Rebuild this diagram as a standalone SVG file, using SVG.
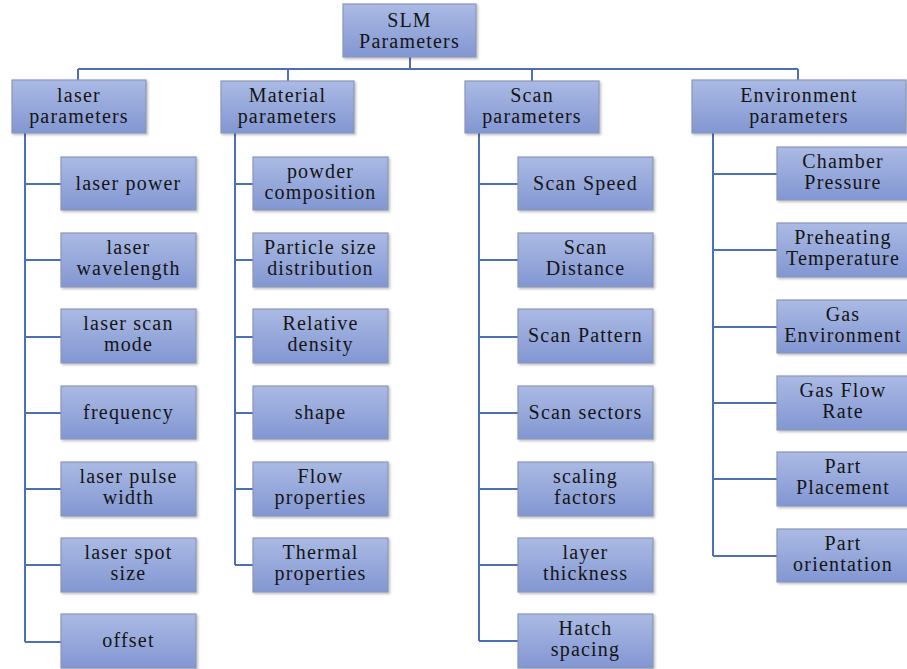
<svg xmlns="http://www.w3.org/2000/svg" width="907" height="669" viewBox="0 0 907 669">
<defs>
<linearGradient id="g" x1="0" y1="0" x2="0" y2="1">
<stop offset="0" stop-color="#abbae4"/>
<stop offset="1" stop-color="#8296d2"/>
</linearGradient>
<filter id="sh" x="-5%" y="-5%" width="115%" height="120%">
<feDropShadow dx="1.5" dy="1.5" stdDeviation="1" flood-color="#000" flood-opacity="0.25"/>
</filter>
</defs>
<style>
.b{fill:url(#g);stroke:#8b97b8;stroke-width:1.2;filter:url(#sh)}
.t{font-size:20px;fill:#151515;text-anchor:middle;letter-spacing:1.2px}
.c{fill:none;stroke:#4d6fb5;stroke-width:2}
</style>
<rect width="907" height="669" fill="#fff"/>
<g id="connectors" class="c">
<path d="M410 57V69M78 69H798M78 69V80M288 69V81M532 69V81M798 69V80"/>
<path d="M25 133V642M25 184H61M25 260H61M25 337H61M25 413H61M25 489H61M25 565H61M25 642H61"/>
<path d="M235 133V565M235 184H253M235 260H253M235 337H253M235 413H253M235 489H253M235 565H253"/>
<path d="M479 133V641M479 184H518M479 260H518M479 337H518M479 413H518M479 489H518M479 565H518M479 641H518"/>
<path d="M713 133V556M713 174H777M713 250H777M713 327H777M713 403H777M713 479H777M713 556H777"/>
</g>
<g font-family="Liberation Serif, Times New Roman, serif">
<g id="slm"><rect class="b" x="343" y="4" width="133" height="53"/><text class="t" x="409.5" y="27">SLM</text><text class="t" x="409.5" y="48">Parameters</text></g>
<g id="laser"><rect class="b" x="12" y="80" width="134" height="53"/><text class="t" x="79" y="102">laser</text><text class="t" x="79" y="123">parameters</text></g>
<g id="material"><rect class="b" x="221" y="81" width="133" height="52"/><text class="t" x="287.5" y="102">Material</text><text class="t" x="287.5" y="123">parameters</text></g>
<g id="scan"><rect class="b" x="465" y="81" width="134" height="52"/><text class="t" x="532" y="102">Scan</text><text class="t" x="532" y="123">parameters</text></g>
<g id="environment"><rect class="b" x="692" y="80" width="214" height="53"/><text class="t" x="799" y="102">Environment</text><text class="t" x="799" y="123">parameters</text></g>

<g id="laser-power"><rect class="b" x="61" y="157" width="135" height="53"/><text class="t" x="128.5" y="190">laser power</text></g>
<g id="laser-wavelength"><rect class="b" x="61" y="233" width="135" height="54"/><text class="t" x="128.5" y="254">laser</text><text class="t" x="128.5" y="275">wavelength</text></g>
<g id="laser-scan-mode"><rect class="b" x="61" y="309" width="135" height="54"/><text class="t" x="128.5" y="330">laser scan</text><text class="t" x="128.5" y="351">mode</text></g>
<g id="frequency"><rect class="b" x="61" y="386" width="135" height="53"/><text class="t" x="128.5" y="419">frequency</text></g>
<g id="laser-pulse-width"><rect class="b" x="61" y="462" width="135" height="54"/><text class="t" x="128.5" y="483">laser pulse</text><text class="t" x="128.5" y="504">width</text></g>
<g id="laser-spot-size"><rect class="b" x="61" y="538" width="135" height="54"/><text class="t" x="128.5" y="559">laser spot</text><text class="t" x="128.5" y="580">size</text></g>
<g id="offset"><rect class="b" x="61" y="614" width="135" height="54"/><text class="t" x="128.5" y="647">offset</text></g>

<g id="powder-composition"><rect class="b" x="253" y="157" width="135" height="53"/><text class="t" x="320.5" y="178">powder</text><text class="t" x="320.5" y="199">composition</text></g>
<g id="particle-size"><rect class="b" x="253" y="233" width="135" height="54"/><text class="t" x="320.5" y="254">Particle size</text><text class="t" x="320.5" y="275">distribution</text></g>
<g id="relative-density"><rect class="b" x="253" y="309" width="135" height="54"/><text class="t" x="320.5" y="330">Relative</text><text class="t" x="320.5" y="351">density</text></g>
<g id="shape"><rect class="b" x="253" y="386" width="135" height="53"/><text class="t" x="320.5" y="419">shape</text></g>
<g id="flow-properties"><rect class="b" x="253" y="462" width="135" height="54"/><text class="t" x="320.5" y="483">Flow</text><text class="t" x="320.5" y="504">properties</text></g>
<g id="thermal-properties"><rect class="b" x="253" y="538" width="135" height="54"/><text class="t" x="320.5" y="559">Thermal</text><text class="t" x="320.5" y="580">properties</text></g>

<g id="scan-speed"><rect class="b" x="518" y="157" width="135" height="53"/><text class="t" x="585.5" y="190">Scan Speed</text></g>
<g id="scan-distance"><rect class="b" x="518" y="233" width="135" height="54"/><text class="t" x="585.5" y="254">Scan</text><text class="t" x="585.5" y="275">Distance</text></g>
<g id="scan-pattern"><rect class="b" x="518" y="309" width="135" height="54"/><text class="t" x="585.5" y="342">Scan Pattern</text></g>
<g id="scan-sectors"><rect class="b" x="518" y="386" width="135" height="53"/><text class="t" x="585.5" y="419">Scan sectors</text></g>
<g id="scaling-factors"><rect class="b" x="518" y="462" width="135" height="54"/><text class="t" x="585.5" y="483">scaling</text><text class="t" x="585.5" y="504">factors</text></g>
<g id="layer-thickness"><rect class="b" x="518" y="538" width="135" height="54"/><text class="t" x="585.5" y="559">layer</text><text class="t" x="585.5" y="580">thickness</text></g>
<g id="hatch-spacing"><rect class="b" x="518" y="614" width="135" height="54"/><text class="t" x="585.5" y="635">Hatch</text><text class="t" x="585.5" y="656">spacing</text></g>

<g id="chamber-pressure"><rect class="b" x="777" y="147" width="134" height="53"/><text class="t" x="843" y="168">Chamber</text><text class="t" x="843" y="189">Pressure</text></g>
<g id="preheating-temperature"><rect class="b" x="777" y="223" width="134" height="54"/><text class="t" x="843" y="244">Preheating</text><text class="t" x="843" y="265">Temperature</text></g>
<g id="gas-environment"><rect class="b" x="777" y="300" width="134" height="53"/><text class="t" x="843" y="321">Gas</text><text class="t" x="843" y="342">Environment</text></g>
<g id="gas-flow-rate"><rect class="b" x="777" y="376" width="134" height="54"/><text class="t" x="843" y="397">Gas Flow</text><text class="t" x="843" y="418">Rate</text></g>
<g id="part-placement"><rect class="b" x="777" y="452" width="134" height="54"/><text class="t" x="843" y="473">Part</text><text class="t" x="843" y="494">Placement</text></g>
<g id="part-orientation"><rect class="b" x="777" y="529" width="134" height="53"/><text class="t" x="843" y="550">Part</text><text class="t" x="843" y="571">orientation</text></g>
</g>
</svg>
